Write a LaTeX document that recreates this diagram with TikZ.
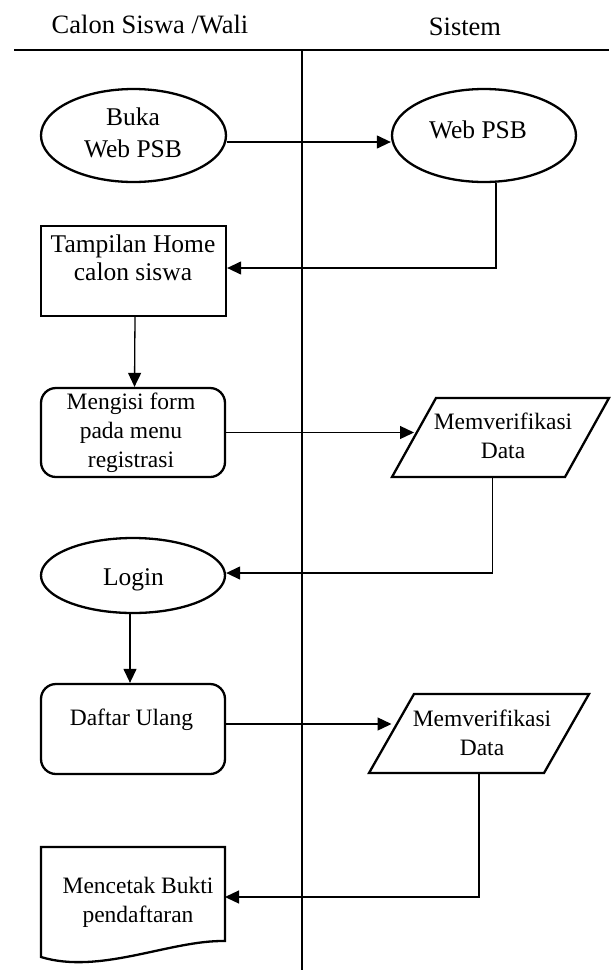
\documentclass[tikz,border=0pt]{standalone}
\usepackage{fontspec}
\setmainfont{Liberation Serif}
\usetikzlibrary{arrows.meta,shapes.geometric}
\begin{document}
\begin{tikzpicture}[x=1pt,y=-1pt,
  shapeline/.style={draw=black, line width=2.3pt, line join=miter},
  oval/.style={shapeline, ellipse, inner sep=0pt},
  box/.style={shapeline, rectangle, inner sep=0pt},
  rbox/.style={shapeline, rectangle, rounded corners=15pt, inner sep=0pt},
  frame/.style={inner sep=0pt, outer sep=0pt},
  bigtxt/.style={font=\fontsize{25.5}{31}\selectfont, align=center, inner sep=0pt, anchor=base},
  smalltxt/.style={font=\fontsize{23.5}{29}\selectfont, align=center, inner sep=0pt, anchor=base},
  headtxt/.style={font=\fontsize{26.5}{32}\selectfont, inner sep=0pt, anchor=base},
  flow/.style={line width=1.3pt, -{Triangle[length=14pt,width=13pt]}},
  lane/.style={line width=1.3pt}
]
\useasboundingbox (0,0) rectangle (611,970);

% swimlane headers and dividers
\node[headtxt] (hcalon) at (150,33) {Calon Siswa /Wali};
\node[headtxt] (hsistem) at (465,35) {Sistem};
\draw[lane] (14,50) -- (609,50);
\draw[lane] (302,50) -- (302,970);

% process shapes
\node[oval, minimum width=185pt, minimum height=93pt] (buka) at (133.5,135.5) {};
\node[oval, minimum width=184pt, minimum height=93pt] (webpsb) at (484,135.5) {};
\node[box, minimum width=185pt, minimum height=90pt] (tampil) at (133.5,271) {};
\node[rbox, minimum width=184pt, minimum height=89pt] (mengisi) at (133,432.5) {};
\node[oval, minimum width=184pt, minimum height=75pt] (login) at (133,575.5) {};
\node[rbox, minimum width=184pt, minimum height=90pt] (daftar) at (133,729) {};

% data (parallelogram) shapes
\node[frame, minimum width=217pt, minimum height=79pt] (para1) at (500.5,437.5) {};
\draw[shapeline] (para1.south west) -- ([xshift=44pt]para1.north west)
  -- (para1.north east) -- ([xshift=-44pt]para1.south east) -- cycle;
\coordinate (para1w) at ([xshift=22pt]para1.west);

\node[frame, minimum width=220pt, minimum height=79pt] (para2) at (479,733.5) {};
\draw[shapeline] (para2.south west) -- ([xshift=45pt]para2.north west)
  -- (para2.north east) -- ([xshift=-45pt]para2.south east) -- cycle;
\coordinate (para2w) at ([xshift=22.5pt]para2.west);

% document shape with wavy foot
\node[frame, minimum width=184pt, minimum height=94pt] (doc) at (133,894) {};
\coordinate (docfoot) at ([yshift=-16pt]doc.south west);
\draw[shapeline] (docfoot) -- (doc.north west) -- (doc.north east) -- (doc.south east)
  .. controls (170,940) and (100,975) .. (docfoot) -- cycle;

% labels (base anchor = baseline of the last line)
\node[bigtxt] (tbuka) at (133,157) {Buka\\[1pt]Web PSB};
\node[bigtxt] (twebpsb) at (478,138) {Web PSB};
\node[font=\fontsize{25.5}{28}\selectfont, align=center, inner sep=0pt, anchor=base] (ttampil) at (133,280) {Tampilan Home\\calon siswa};
\node[smalltxt] (tmengisi) at (131,467) {Mengisi form\\pada menu\\registrasi};
\node[smalltxt] (tver1) at (503,458) {Memverifikasi\\Data};
\node[bigtxt] (tlogin) at (133.5,585) {Login};
\node[smalltxt] (tdaftar) at (131.5,725) {Daftar Ulang};
\node[smalltxt] (tver2) at (482,755) {Memverifikasi\\Data};
\node[smalltxt] (tcetak) at (138,922) {Mencetak Bukti\\pendaftaran};

% connectors
\draw[flow] ([yshift=-6.5pt]buka.east) -- ([yshift=-6.5pt]webpsb.west);
\draw[flow] ([xshift=12pt]webpsb.south) |- ([yshift=3pt]tampil.east);
\draw[flow] ([xshift=1.5pt]tampil.south) -- ([xshift=1.5pt]mengisi.north);
\draw[flow] (mengisi.east) -- (mengisi.east -| para1w);
\draw[flow] ([xshift=-8pt]para1.south) |- ([yshift=2.5pt]login.east);
\draw[flow] ([xshift=-3pt]login.south) -- ([xshift=-3pt]daftar.north);
\draw[flow] ([yshift=5pt]daftar.east) -- ([yshift=5pt]daftar.east -| para2w);
\draw[flow] (para2.south) |- ([yshift=-3pt]doc.east);
\end{tikzpicture}
\end{document}
